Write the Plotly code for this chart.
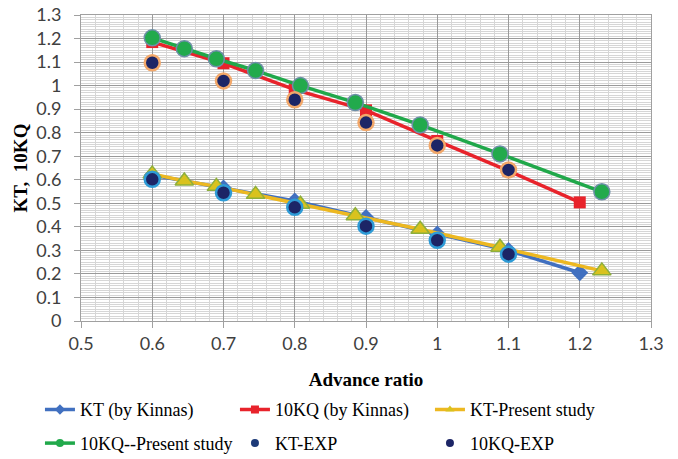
import plotly.graph_objects as go

# ---- data ----
j_kinnas = [0.6, 0.7, 0.8, 0.9, 1.0, 1.1, 1.2]
kt_kinnas = [0.62, 0.565, 0.51, 0.44, 0.37, 0.30, 0.205]
kq10_kinnas = [1.185, 1.095, 0.983, 0.895, 0.765, 0.638, 0.504]

j_present = [0.6, 0.645, 0.69, 0.745, 0.808, 0.885, 0.976, 1.088, 1.231]
kt_present = [0.625, 0.595, 0.572, 0.538, 0.496, 0.447, 0.39, 0.313, 0.213]
kq10_present = [1.203, 1.157, 1.114, 1.064, 1.0, 0.928, 0.833, 0.71, 0.549]

j_exp = [0.6, 0.7, 0.8, 0.9, 1.0, 1.1]
kt_exp = [0.602, 0.545, 0.483, 0.403, 0.343, 0.284]
kq10_exp = [1.097, 1.02, 0.94, 0.843, 0.746, 0.642]

x_ticks = [0.5, 0.6, 0.7, 0.8, 0.9, 1, 1.1, 1.2, 1.3]
y_ticks = [0, 0.1, 0.2, 0.3, 0.4, 0.5, 0.6, 0.7, 0.8, 0.9, 1, 1.1, 1.2, 1.3]

names = ["KT (by Kinnas)", "10KQ (by Kinnas)", "KT-Present study",
         "10KQ--Present study", "KT-EXP", "10KQ-EXP"]

BLUE = "#4170C0"
RED = "#E8232B"
YEL = "#EDB821"
GRN = "#20A84A"
NAVY = "#1C2566"

fig = go.Figure()

styles = [
    dict(x=j_kinnas, y=kt_kinnas, mode="lines+markers",
         line=dict(color=BLUE, width=3.5),
         marker=dict(symbol="diamond", size=13, color=BLUE)),
    dict(x=j_kinnas, y=kq10_kinnas, mode="lines+markers",
         line=dict(color=RED, width=3.5),
         marker=dict(symbol="square", size=12, color=RED)),
    dict(x=j_present, y=kt_present, mode="lines+markers",
         line=dict(color=YEL, width=3.5),
         marker=dict(symbol="triangle-up", size=16, color="#D9C21E",
                     line=dict(color="#8DAF3C", width=1.5))),
    dict(x=j_present, y=kq10_present, mode="lines+markers",
         line=dict(color=GRN, width=3.5),
         marker=dict(symbol="circle", size=16, color="#22AA4C",
                     line=dict(color="#6E8FA8", width=1.5))),
    dict(x=j_exp, y=kt_exp, mode="markers",
         marker=dict(symbol="circle", size=15, color=NAVY,
                     line=dict(color="#2E9BD6", width=2.5))),
    dict(x=j_exp, y=kq10_exp, mode="markers",
         marker=dict(symbol="circle", size=15, color=NAVY,
                     line=dict(color="#F2A86A", width=2.5))),
]

for name, st in zip(names, styles):
    fig.add_trace(go.Scatter(name=name, showlegend=False, **st))

# legend proxies (small markers like the original legend)
proxy = [
    dict(mode="lines+markers", line=dict(color=BLUE, width=3.5),
         marker=dict(symbol="diamond", size=8, color=BLUE)),
    dict(mode="lines+markers", line=dict(color=RED, width=3.5),
         marker=dict(symbol="square", size=8, color=RED)),
    dict(mode="lines+markers", line=dict(color=YEL, width=3.5),
         marker=dict(symbol="triangle-up", size=8, color="#D9C21E")),
    dict(mode="lines+markers", line=dict(color=GRN, width=3.5),
         marker=dict(symbol="circle", size=8, color="#22AA4C")),
    dict(mode="markers", marker=dict(symbol="circle", size=8, color="#1C3A78")),
    dict(mode="markers", marker=dict(symbol="circle", size=8, color=NAVY)),
]
for i, (name, st) in enumerate(zip(names, proxy)):
    fig.add_trace(go.Scatter(x=[None], y=[None], name=name, showlegend=True,
                             legend="legend" if i < 3 else "legend2", **st))

SERIF = "Liberation Serif"
tickfont = dict(family="Lato", size=18, color="#404040")
titlefont = dict(family=SERIF, size=19, color="#000000", weight="bold")
legfont = dict(family=SERIF, size=18, color="#000000")

fig.update_layout(
    width=678, height=459,
    font=dict(family=SERIF, size=18, color="#000000"),
    margin=dict(l=81, r=27, t=15, b=138, autoexpand=False),
    paper_bgcolor="white", plot_bgcolor="white",
    showlegend=True,
    legend=dict(orientation="h", x=-0.072, xanchor="left", y=-0.29,
                yanchor="middle", font=legfont, entrywidth=150,
                traceorder="normal", bgcolor="rgba(0,0,0,0)"),
    legend2=dict(orientation="h", x=-0.072, xanchor="left", y=-0.40,
                 yanchor="middle", font=legfont, entrywidth=150,
                 traceorder="normal", bgcolor="rgba(0,0,0,0)"),
    xaxis=dict(
        range=[0.5, 1.3], tickvals=x_ticks,
        ticktext=[str(v) for v in x_ticks],
        tickfont=tickfont, ticks="outside", ticklen=6, tickcolor="#A0A0A0",
        showline=True, linecolor="#A0A0A0", linewidth=1, mirror=True,
        showgrid=True, gridcolor="#9A9A9A", gridwidth=1,
        minor=dict(dtick=0.02, showgrid=True, gridcolor="#D6D6D6", gridwidth=1),
        zeroline=False,
        title=dict(text="Advance ratio", font=titlefont, standoff=20),
    ),
    yaxis=dict(
        range=[0, 1.3], tickvals=y_ticks,
        ticktext=[("%g" % v) for v in y_ticks],
        tickfont=tickfont, ticks="outside", ticklen=6, tickcolor="#A0A0A0",
        ticklabelstandoff=9,
        showline=True, linecolor="#A0A0A0", linewidth=1, mirror=True,
        showgrid=True, gridcolor="#9A9A9A", gridwidth=1,
        minor=dict(dtick=0.01, showgrid=True, gridcolor="#D6D6D6", gridwidth=1),
        zeroline=False,
        title=dict(text="KT,  10KQ", font=titlefont, standoff=3),
    ),
)

fig.write_html("out.html")
